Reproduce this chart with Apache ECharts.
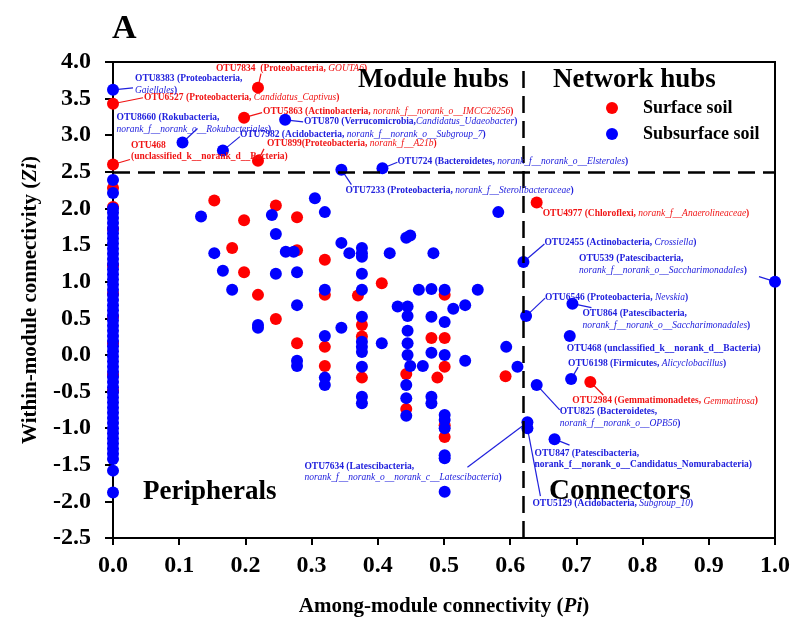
<!DOCTYPE html>
<html><head><meta charset="utf-8">
<script src="https://cdn.jsdelivr.net/npm/echarts@6/dist/echarts.min.js"></script>
<style>html,body{margin:0;padding:0;background:#fff}#c{width:793px;height:622px}</style>
</head><body><div id="c"></div>
<script>
// ---------------- DATA ----------------
const seriesNames = ['Surface soil', 'Subsurface soil'];

// Nodes with Pi = 0 (peripherals column), Zi values
const surfaceZiAtPi0 = [2.28, 2.02, 1.72, 1.22, 0.84, 0.52, 0.16, -0.27, -0.49];
const subsurfaceZiAtPi0 = [2.39, 2.21, 2.00, 1.94, 1.87, 1.80, 1.73, 1.66, 1.59, 1.52, 1.45, 1.38,
  1.31, 1.24, 1.17, 1.10, 1.03, 0.96, 0.89, 0.82, 0.75, 0.68, 0.61, 0.54, 0.47, 0.40, 0.33, 0.26,
  0.19, 0.12, 0.05, -0.02, -0.09, -0.16, -0.23, -0.30, -0.37, -0.44, -0.51, -0.58, -0.65, -0.72,
  -0.79, -0.86, -0.93, -1.00, -1.07, -1.14, -1.21, -1.28, -1.35, -1.42, -1.58, -1.88];

// Other unlabeled nodes [Pi, Zi]
const surfacePoints = [
  [0.153,2.11],[0.198,1.84],[0.246,2.04],[0.278,1.88],[0.18,1.46],[0.278,1.43],[0.32,1.30],
  [0.198,1.13],[0.406,0.98],[0.219,0.82],[0.32,0.82],[0.37,0.81],[0.501,0.82],[0.376,0.41],
  [0.376,0.25],[0.246,0.49],[0.32,0.11],[0.278,0.16],[0.481,0.23],[0.501,0.23],[0.593,-0.29],
  [0.32,-0.15],[0.376,-0.31],[0.443,-0.26],[0.501,-0.16],[0.49,-0.31],[0.443,-0.74],
  [0.501,-0.96],[0.501,-1.12]
];
const subsurfacePoints = [
  [0.133,1.89],[0.24,1.91],[0.305,2.14],[0.32,1.95],[0.582,1.95],[0.246,1.65],[0.153,1.39],
  [0.261,1.41],[0.273,1.41],[0.345,1.53],[0.357,1.39],[0.376,1.46],[0.376,1.39],[0.376,1.34],
  [0.418,1.39],[0.443,1.60],[0.449,1.63],[0.484,1.39],[0.166,1.15],[0.246,1.11],[0.278,1.13],
  [0.376,1.11],[0.18,0.89],[0.32,0.89],[0.376,0.89],[0.462,0.89],[0.481,0.90],[0.501,0.89],
  [0.551,0.89],[0.278,0.68],[0.43,0.66],[0.445,0.66],[0.445,0.53],[0.514,0.63],[0.532,0.68],
  [0.481,0.52],[0.501,0.45],[0.376,0.52],[0.219,0.41],[0.219,0.37],[0.345,0.37],[0.32,0.26],
  [0.406,0.16],[0.445,0.33],[0.445,0.16],[0.445,0.0],[0.481,0.03],[0.501,0.0],[0.376,0.18],
  [0.376,0.11],[0.376,0.04],[0.532,-0.08],[0.594,0.11],[0.611,-0.16],[0.278,-0.08],[0.278,-0.15],
  [0.376,-0.16],[0.449,-0.15],[0.468,-0.15],[0.32,-0.31],[0.32,-0.41],[0.443,-0.41],
  [0.376,-0.57],[0.376,-0.66],[0.443,-0.59],[0.443,-0.83],[0.481,-0.57],[0.481,-0.66],
  [0.501,-0.82],[0.501,-0.89],[0.501,-1.0],[0.501,-1.37],[0.501,-1.41],[0.501,-1.87]
];

// Labeled nodes: [id, Pi, Zi, label]  (*...* = italic)
const surfaceLabeled = [
  ['OTU7834', 0.219, 3.65, 'OTU7834  (Proteobacteria, *GOUTA6*)'],
  ['OTU6527', 0.0, 3.43, 'OTU6527 (Proteobacteria, *Candidatus_Captivus*)'],
  ['OTU5863', 0.198, 3.24, 'OTU5863 (Actinobacteria, *norank_f__norank_o__IMCC26256*)'],
  ['OTU899', 0.219, 2.65, 'OTU899(Proteobacteria, *norank_f__A21b*)'],
  ['OTU468', 0.0, 2.60, 'OTU468\n(unclassified_k__norank_d__Bacteria)'],
  ['OTU4977', 0.64, 2.08, 'OTU4977 (Chloroflexi, *norank_f__Anaerolineaceae*)'],
  ['OTU2984', 0.721, -0.37, 'OTU2984 (Gemmatimonadetes, *Gemmatirosa*)']
];
const subsurfaceLabeled = [
  ['OTU8383', 0.0, 3.62, 'OTU8383 (Proteobacteria,\n*Gaiellales*)'],
  ['OTU8660', 0.105, 2.90, 'OTU8660 (Rokubacteria,\n*norank_f__norank_o__Rokubacteriales*)'],
  ['OTU870', 0.26, 3.21, 'OTU870 (Verrucomicrobia,*Candidatus_Udaeobacter*)'],
  ['OTU7982', 0.166, 2.79, 'OTU7982 (Acidobacteria, *norank_f__norank_o__Subgroup_7*)'],
  ['OTU724', 0.407, 2.55, 'OTU724 (Bacteroidetes, *norank_f__norank_o__Elsterales*)'],
  ['OTU7233', 0.345, 2.53, 'OTU7233 (Proteobacteria, *norank_f__Sterolibacteraceae*)'],
  ['OTU2455', 0.62, 1.27, 'OTU2455 (Actinobacteria, *Crossiella*)'],
  ['OTU539', 1.0, 1.0, 'OTU539 (Patescibacteria,\n*norank_f__norank_o__Saccharimonadales*)'],
  ['OTU6546', 0.624, 0.53, 'OTU6546 (Proteobacteria, *Nevskia*)'],
  ['OTU864', 0.694, 0.70, 'OTU864 (Patescibacteria,\n*norank_f__norank_o__Saccharimonadales*)'],
  ['OTU468', 0.69, 0.26, 'OTU468 (unclassified_k__norank_d__Bacteria)'],
  ['OTU6198', 0.692, -0.33, 'OTU6198 (Firmicutes, *Alicyclobacillus*)'],
  ['OTU825', 0.64, -0.41, 'OTU825 (Bacteroidetes,\n*norank_f__norank_o__OPB56*)'],
  ['OTU847', 0.667, -1.15, 'OTU847 (Patescibacteria,\nnorank_f__norank_o__Candidatus_Nomurabacteria)'],
  ['OTU7634', 0.626, -0.92, 'OTU7634 (Latescibacteria,\n*norank_f__norank_o__norank_c__Latescibacteria*)'],
  ['OTU5129', 0.626, -1.00, 'OTU5129 (Acidobacteria, *Subgroup_10*)']
];

const hubThresholdZi = 2.5;
const connectorThresholdPi = 0.62;
const regionNames = ['Module hubs', 'Network hubs', 'Peripherals', 'Connectors'];

// ---------------- LAYOUT (pixel offsets of label text & leader line end relative to node) ----------------
const surfaceLabelLayout = [
  [-42,-19, 3,-14], [31,-6, 30,-6], [19,-6, 18,-5], [9,-17, 6,-12],
  [18,-19, 17,-5], [6,11, 6,6], [-18,19, 13,13]
];
const subsurfaceLabelLayout = [
  [22,-11, 20,-2], [-66,-25, 15,-14], [19,2, 18,2], [17,-16, 17,-14], [15,-7, 15,-6],
  [4,21, 10,15], [21,-19, 21,-18], [-196,-23, -16,-5], [19,-19, 19,-18], [10,10, 19,4],
  [-3,13, null,null], [-3,-16, 7,-12], [23,27, 23,25], [-20,14, 15,6], [-223,44, -60,45],
  [5,75, 13,68]
];

// ---------------- CHART ----------------
const SERIF = '"Liberation Serif", "Times New Roman", serif';
const RED = '#ff0000', BLUE = '#0000ff', RED_T = '#f01414', BLUE_T = '#2020dd';

const surfaceData = surfaceZiAtPi0.map(z => [0, z]).concat(surfacePoints, surfaceLabeled.map(d => [d[1], d[2]]));
const subsurfaceData = subsurfaceZiAtPi0.map(z => [0, z]).concat(subsurfacePoints, subsurfaceLabeled.map(d => [d[1], d[2]]));

const chart = echarts.init(document.getElementById('c'));
const tickFont = { fontSize: 24, fontWeight: 'bold', fontFamily: SERIF, color: '#000' };
const titleRich = {
  b: { fontSize: 21, fontWeight: 'bold', fontFamily: SERIF, color: '#000' },
  i: { fontSize: 21, fontWeight: 'bold', fontStyle: 'italic', fontFamily: SERIF, color: '#000' }
};

const option = {
  animation: false,
  backgroundColor: '#fff',
  grid: { left: 113, right: 17, top: 62, bottom: 84, show: true, borderColor: '#000', borderWidth: 2 },
  xAxis: {
    type: 'value', min: 0, max: 1, interval: 0.1,
    name: '{b|Among-module connectivity (}{i|Pi}{b|)}',
    nameLocation: 'middle', nameGap: 58, nameTextStyle: { rich: titleRich },
    axisLine: { show: true, onZero: false, lineStyle: { color: '#000', width: 2 } },
    axisTick: { show: true, length: 7, lineStyle: { color: '#000', width: 2 } },
    axisLabel: Object.assign({ formatter: v => v.toFixed(1), margin: 16 }, tickFont),
    splitLine: { show: false }
  },
  yAxis: {
    type: 'value', min: -2.5, max: 4, interval: 0.5,
    name: '{b|Within-module connectivity (}{i|Zi}{b|)}',
    nameLocation: 'middle', nameGap: 72, nameTextStyle: { rich: titleRich },
    axisLine: { show: true, onZero: false, lineStyle: { color: '#000', width: 2 } },
    axisTick: { show: true, length: 8, lineStyle: { color: '#000', width: 2 } },
    axisLabel: Object.assign({ formatter: v => v.toFixed(1), margin: 22 }, tickFont),
    splitLine: { show: false }
  },
  legend: {
    orient: 'vertical', left: 606, top: 99, padding: 0, itemWidth: 12, itemHeight: 12, itemGap: 8,
    icon: 'circle', data: seriesNames,
    textStyle: { fontSize: 18, fontWeight: 'bold', fontFamily: SERIF, color: '#000', padding: [0, 0, 0, 20] }
  },
  series: [
    {
      type: 'scatter', name: 'thresholds', data: [], z: 1, silent: true,
      markLine: {
        silent: true, symbol: 'none', label: { show: false },
        lineStyle: { color: '#000', width: 2.5, type: [17, 8] },
        data: [{ yAxis: hubThresholdZi }, { xAxis: connectorThresholdPi }]
      }
    },
    { type: 'scatter', name: seriesNames[0], data: surfaceData, symbolSize: 12, z: 2,
      itemStyle: { color: RED, opacity: 1 } },
    { type: 'scatter', name: seriesNames[1], data: subsurfaceData, symbolSize: 12, z: 3,
      itemStyle: { color: BLUE, opacity: 1 } }
  ]
};
chart.setOption(option);

// ---------------- ANNOTATIONS ----------------
const LH = 11.5;
function richFor(color) {
  return {
    n: { fill: color, fontSize: 9.5, fontWeight: 'bold', fontFamily: SERIF, lineHeight: LH },
    i: { fill: color, fontSize: 9.5, fontStyle: 'italic', fontWeight: 'normal', fontFamily: SERIF, lineHeight: LH }
  };
}
function toRich(str) {
  return str.split('\n').map(line => line.split('*').map((seg, k) => seg ? '{' + (k % 2 ? 'i' : 'n') + '|' + seg + '}' : '').join('')).join('\n');
}
const graphics = [];
function addLabels(list, layout, color) {
  list.forEach((d, idx) => {
    const p = chart.convertToPixel({ gridIndex: 0 }, [d[1], d[2]]);
    const L = layout[idx];
    if (L[2] !== null) {
      graphics.push({ type: 'line', z: 1, silent: true,
        shape: { x1: p[0], y1: p[1], x2: p[0] + L[2], y2: p[1] + L[3] },
        style: { stroke: color, lineWidth: 1.2 } });
    }
    graphics.push({ type: 'text', z: 10, silent: true, x: p[0] + L[0], y: p[1] + L[1] - LH / 2,
      style: { text: toRich(d[3]), rich: richFor(color), align: 'left', verticalAlign: 'top',
        textAlign: 'left', textVerticalAlign: 'top', fill: color } });
  });
}
addLabels(surfaceLabeled, surfaceLabelLayout, RED_T);
addLabels(subsurfaceLabeled, subsurfaceLabelLayout, BLUE_T);

const regionPos = [[358, 80, 27], [553, 80, 27], [143, 492, 27], [549, 492, 29]];
regionNames.forEach((t, k) => {
  graphics.push({ type: 'text', z: 10, silent: true, x: regionPos[k][0], y: regionPos[k][1],
    style: { text: t, font: 'bold ' + regionPos[k][2] + 'px ' + SERIF, fill: '#000', align: 'left', verticalAlign: 'middle',
      textAlign: 'left', textVerticalAlign: 'middle' } });
});
graphics.push({ type: 'text', z: 10, silent: true, x: 112, y: 29,
  style: { text: 'A', font: 'bold 34px ' + SERIF, fill: '#000', align: 'left', verticalAlign: 'middle',
    textAlign: 'left', textVerticalAlign: 'middle' } });

chart.setOption({ graphic: graphics });
</script>
</body></html>
